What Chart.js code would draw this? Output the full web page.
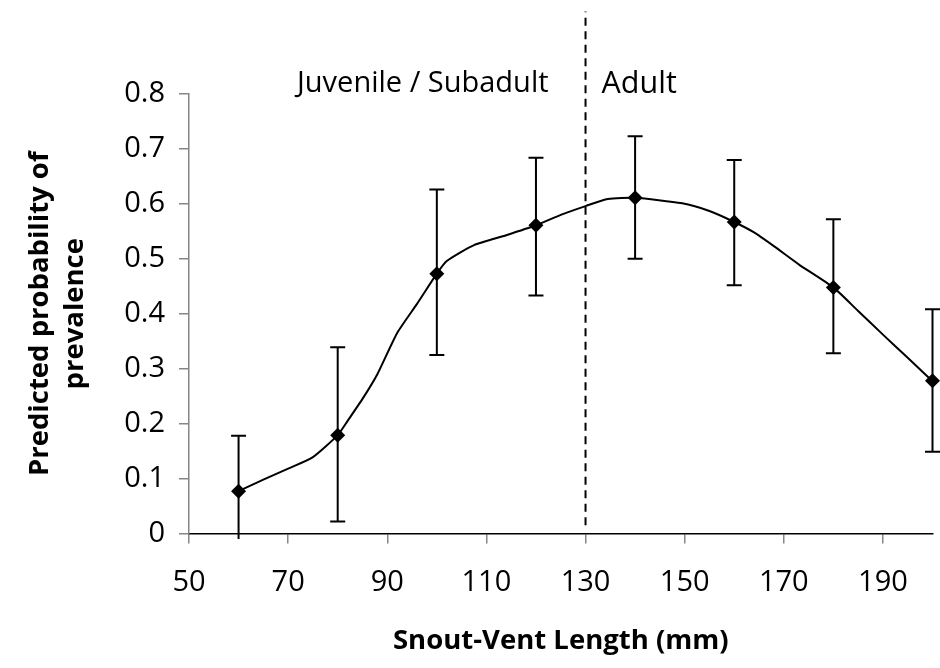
<!DOCTYPE html>
<html>
<head>
<meta charset="utf-8">
<script src="https://cdn.jsdelivr.net/npm/chart.js@4.4.1/dist/chart.umd.min.js"></script>
<style>
  html, body { margin: 0; padding: 0; background: #fff; }
  #wrap { width: 940px; height: 668px; }
</style>
</head>
<body>
<div id="wrap"><canvas id="svlChart" width="940" height="668"></canvas></div>
<script>
// observed size classes (snout-vent length, mm) with model predictions
const svlPoints = [60, 80, 100, 120, 140, 160, 180, 200];
const predicted = [0.077, 0.179, 0.473, 0.561, 0.611, 0.567, 0.448, 0.278];
const errLow  = [-0.01, 0.022, 0.325, 0.433, 0.50, 0.452, 0.328, 0.149];
const errHigh = [0.178, 0.339, 0.626, 0.684, 0.723, 0.680, 0.572, 0.408];

// fitted curve
const curveX = [60, 65, 70, 75, 80, 82, 85, 88, 92, 96, 100, 102, 107.5, 114, 120, 125, 130, 134.5, 140, 149.5, 155, 160, 164, 168, 173, 180, 185, 190, 195, 200];
const curveY = [0.077, 0.098, 0.118, 0.139, 0.179, 0.205, 0.245, 0.290, 0.365, 0.418, 0.473, 0.496, 0.525, 0.543, 0.561, 0.580, 0.596, 0.609, 0.611, 0.601, 0.587, 0.567, 0.548, 0.523, 0.490, 0.448, 0.405, 0.362, 0.320, 0.277];

// juvenile / adult boundary
const dividerX = 130;
const dividerY = [0.015, 0.95];
const stageLabels = ['Juvenile / Subadult', 'Adult'];

const xTicks = [50, 70, 90, 110, 130, 150, 170, 190];

const FONT = "'Open Sans', 'DejaVu Sans', sans-serif";

const errorBars = {
    id: 'errorBars',
    beforeDatasetsDraw(chart) {
        const { ctx, scales: { x, y } } = chart;
        ctx.save();
        ctx.strokeStyle = '#000';
        ctx.lineWidth = 2;
        svlPoints.forEach((v, i) => {
            const px = x.getPixelForValue(v);
            const lo = y.getPixelForValue(errLow[i]);
            const hi = y.getPixelForValue(errHigh[i]);
            ctx.beginPath();
            ctx.moveTo(px, lo); ctx.lineTo(px, hi);
            if (errLow[i] > 0) { ctx.moveTo(px - 7.5, lo); ctx.lineTo(px + 7.5, lo); }
            ctx.moveTo(px - 7.5, hi); ctx.lineTo(px + 7.5, hi);
            ctx.stroke();
        });
        ctx.restore();
    },
    afterDraw(chart) {
        const { ctx, scales: { x, y } } = chart;
        const dx = x.getPixelForValue(dividerX);
        const ty = y.getPixelForValue(0.8) - 10;
        ctx.save();
        ctx.font = '29px ' + FONT;
        ctx.fillStyle = '#000';
        ctx.textBaseline = 'middle';
        ctx.textAlign = 'right';
        ctx.fillText(stageLabels[0], dx - 37, ty);
        ctx.textAlign = 'left';
        ctx.font = '30.5px ' + FONT;
        ctx.fillText(stageLabels[1], dx + 16, ty);
        ctx.restore();
    }
};

const ctx = document.getElementById('svlChart').getContext('2d');

new Chart(ctx, {
    type: 'line',
    data: {
        datasets: [
            {
                label: 'points',
                data: svlPoints.map((v, i) => ({ x: v, y: predicted[i] })),
                showLine: false,
                pointStyle: 'rectRot',
                pointRadius: 7.5,
                pointBackgroundColor: '#000',
                pointBorderColor: '#000',
                pointBorderWidth: 0,
                clip: false
            },
            {
                label: 'curve',
                data: curveX.map((v, i) => ({ x: v, y: curveY[i] })),
                borderColor: '#000',
                borderWidth: 2,
                pointRadius: 0,
                tension: 0.2,
                fill: false,
                clip: false
            },
            {
                label: 'divider',
                data: dividerY.map(v => ({ x: dividerX, y: v })),
                borderColor: '#000',
                borderWidth: 2,
                borderDash: [8, 5.5],
                pointRadius: 0,
                fill: false,
                clip: false
            }
        ]
    },
    options: {
        responsive: false,
        animation: false,
        layout: { padding: { left: 0, top: 94, right: 4, bottom: 0 } },
        plugins: {
            legend: { display: false },
            tooltip: { enabled: false }
        },
        scales: {
            x: {
                type: 'linear',
                min: 50,
                max: 200,
                afterBuildTicks: s => { s.ticks = xTicks.map(v => ({ value: v })); },
                afterFit: s => { s.height = 134.5; },
                border: { color: '#000', width: 1.5 },
                grid: { drawOnChartArea: false, tickLength: 10, color: '#868686', lineWidth: 1.5 },
                ticks: { color: '#000', font: { family: FONT, size: 29 }, padding: 22, maxRotation: 0 },
                title: {
                    display: true,
                    text: 'Snout-Vent Length (mm)',
                    color: '#000',
                    font: { family: FONT, size: 27.5, weight: 'bold', lineHeight: 1.27 },
                    padding: { top: 0, bottom: 9 }
                }
            },
            y: {
                min: 0,
                max: 0.8,
                afterFit: s => { s.width = 189; },
                border: { color: '#868686', width: 1.5 },
                grid: { drawOnChartArea: false, tickLength: 10, color: '#868686', lineWidth: 1.5 },
                ticks: { stepSize: 0.1, color: '#000', font: { family: FONT, size: 29 }, padding: 14 },
                title: {
                    display: true,
                    text: ['Predicted probability of', 'prevalence'],
                    color: '#000',
                    font: { family: FONT, size: 27.5, weight: 'bold', lineHeight: 1.27 },
                    padding: { top: 22.5, bottom: 0 }
                }
            }
        }
    },
    plugins: [errorBars]
});
</script>
</body>
</html>
